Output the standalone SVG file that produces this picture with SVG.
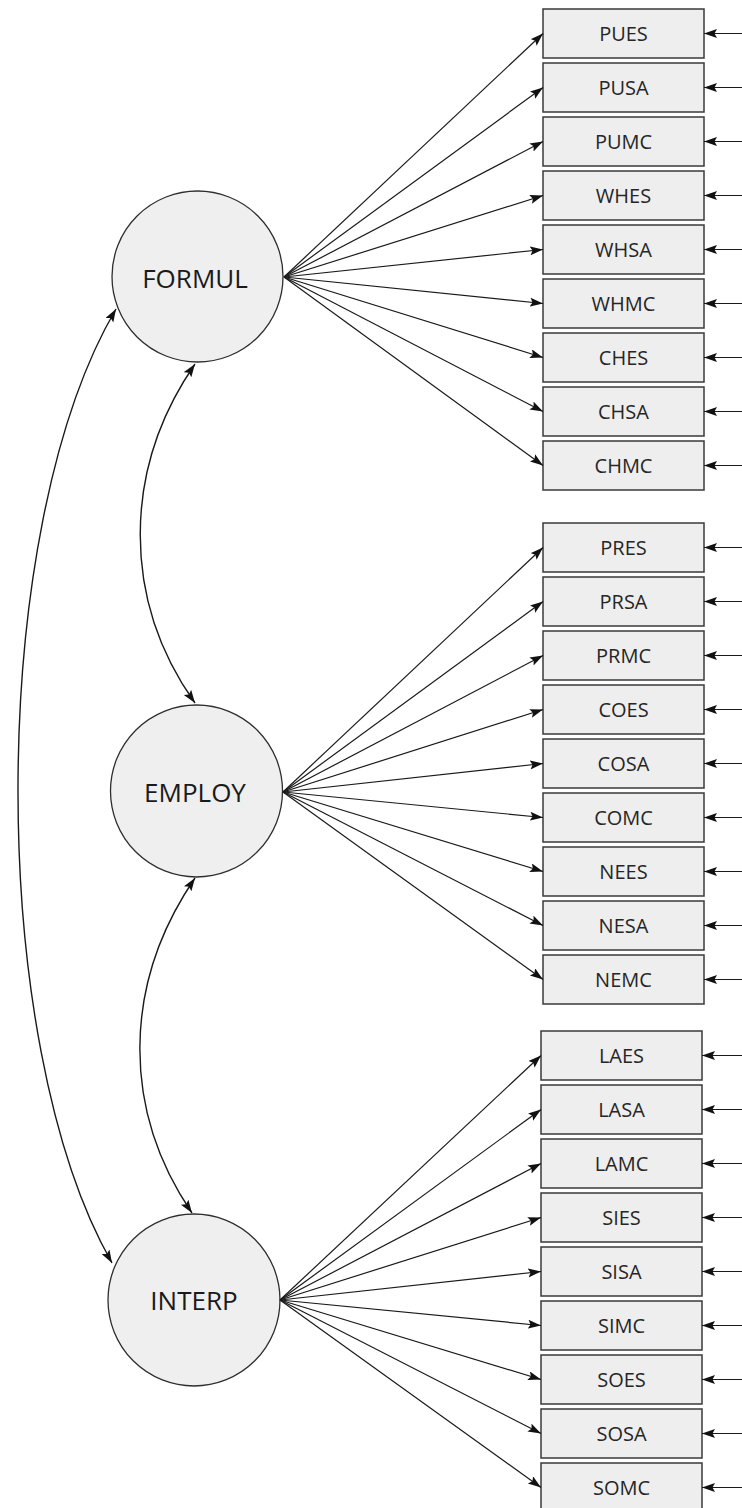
<svg xmlns="http://www.w3.org/2000/svg" width="742" height="1508" viewBox="0 0 742 1508">
  <style>
    .box { fill: #eeeeee; stroke: #3a3a3a; stroke-width: 1.5; }
    .lat { fill: #efefef; stroke: #2e2e2e; stroke-width: 1.3; }
    .lbl { font-family: "Open Sans", "Noto Sans", sans-serif; font-size: 20px; fill: #262626; text-anchor: middle; }
    .big { font-family: "Open Sans", "Noto Sans", sans-serif; font-size: 26px; fill: #1a1a1a; text-anchor: middle; }
    .ln { fill: none; stroke: #1a1a1a; stroke-width: 1.2; marker-end: url(#ah); }
    .cv { fill: none; stroke: #1a1a1a; stroke-width: 1.4; marker-start: url(#ahs); marker-end: url(#ah); }
  </style>
  <defs>
    <marker id="ah" markerUnits="userSpaceOnUse" markerWidth="14" markerHeight="10" refX="13" refY="4.5" orient="auto">
      <path d="M0,0 L13,4.5 L0,9 L2.5,4.5 z" fill="#111"/>
    </marker>
    <marker id="ahs" markerUnits="userSpaceOnUse" markerWidth="14" markerHeight="10" refX="13" refY="4.5" orient="auto-start-reverse">
      <path d="M0,0 L13,4.5 L0,9 L2.5,4.5 z" fill="#111"/>
    </marker>
  </defs>
  <rect width="742" height="1508" fill="#ffffff"/>

  <!-- latent factors -->
  <g id="FORMUL">
    <circle class="lat" cx="197.5" cy="276.5" r="85.5"/>
    <text class="big" x="195" y="287.5">FORMUL</text>
  </g>
  <g id="EMPLOY">
    <circle class="lat" cx="196.5" cy="791" r="86"/>
    <text class="big" x="195" y="801.5">EMPLOY</text>
  </g>
  <g id="INTERP">
    <circle class="lat" cx="194" cy="1300" r="86"/>
    <text class="big" x="194" y="1309.5">INTERP</text>
  </g>

  <!-- indicators: FORMUL -->
  <g id="PUES"><rect class="box" x="543" y="9" width="161" height="49"/><text class="lbl" x="623.5" y="40.5">PUES</text></g>
  <g id="PUSA"><rect class="box" x="543" y="63" width="161" height="49"/><text class="lbl" x="623.5" y="94.5">PUSA</text></g>
  <g id="PUMC"><rect class="box" x="543" y="117" width="161" height="49"/><text class="lbl" x="623.5" y="148.5">PUMC</text></g>
  <g id="WHES"><rect class="box" x="543" y="171" width="161" height="49"/><text class="lbl" x="623.5" y="202.5">WHES</text></g>
  <g id="WHSA"><rect class="box" x="543" y="225" width="161" height="49"/><text class="lbl" x="623.5" y="256.5">WHSA</text></g>
  <g id="WHMC"><rect class="box" x="543" y="279" width="161" height="49"/><text class="lbl" x="623.5" y="310.5">WHMC</text></g>
  <g id="CHES"><rect class="box" x="543" y="333" width="161" height="49"/><text class="lbl" x="623.5" y="364.5">CHES</text></g>
  <g id="CHSA"><rect class="box" x="543" y="387" width="161" height="49"/><text class="lbl" x="623.5" y="418.5">CHSA</text></g>
  <g id="CHMC"><rect class="box" x="543" y="441" width="161" height="49"/><text class="lbl" x="623.5" y="472.5">CHMC</text></g>

  <!-- indicators: EMPLOY -->
  <g id="PRES"><rect class="box" x="543" y="523" width="161" height="49"/><text class="lbl" x="623.5" y="554.5">PRES</text></g>
  <g id="PRSA"><rect class="box" x="543" y="577" width="161" height="49"/><text class="lbl" x="623.5" y="608.5">PRSA</text></g>
  <g id="PRMC"><rect class="box" x="543" y="631" width="161" height="49"/><text class="lbl" x="623.5" y="662.5">PRMC</text></g>
  <g id="COES"><rect class="box" x="543" y="685" width="161" height="49"/><text class="lbl" x="623.5" y="716.5">COES</text></g>
  <g id="COSA"><rect class="box" x="543" y="739" width="161" height="49"/><text class="lbl" x="623.5" y="770.5">COSA</text></g>
  <g id="COMC"><rect class="box" x="543" y="793" width="161" height="49"/><text class="lbl" x="623.5" y="824.5">COMC</text></g>
  <g id="NEES"><rect class="box" x="543" y="847" width="161" height="49"/><text class="lbl" x="623.5" y="878.5">NEES</text></g>
  <g id="NESA"><rect class="box" x="543" y="901" width="161" height="49"/><text class="lbl" x="623.5" y="932.5">NESA</text></g>
  <g id="NEMC"><rect class="box" x="543" y="955" width="161" height="49"/><text class="lbl" x="623.5" y="986.5">NEMC</text></g>

  <!-- indicators: INTERP -->
  <g id="LAES"><rect class="box" x="541" y="1031" width="161" height="49"/><text class="lbl" x="621.5" y="1062.5">LAES</text></g>
  <g id="LASA"><rect class="box" x="541" y="1085" width="161" height="49"/><text class="lbl" x="621.5" y="1116.5">LASA</text></g>
  <g id="LAMC"><rect class="box" x="541" y="1139" width="161" height="49"/><text class="lbl" x="621.5" y="1170.5">LAMC</text></g>
  <g id="SIES"><rect class="box" x="541" y="1193" width="161" height="49"/><text class="lbl" x="621.5" y="1224.5">SIES</text></g>
  <g id="SISA"><rect class="box" x="541" y="1247" width="161" height="49"/><text class="lbl" x="621.5" y="1278.5">SISA</text></g>
  <g id="SIMC"><rect class="box" x="541" y="1301" width="161" height="49"/><text class="lbl" x="621.5" y="1332.5">SIMC</text></g>
  <g id="SOES"><rect class="box" x="541" y="1355" width="161" height="49"/><text class="lbl" x="621.5" y="1386.5">SOES</text></g>
  <g id="SOSA"><rect class="box" x="541" y="1409" width="161" height="49"/><text class="lbl" x="621.5" y="1440.5">SOSA</text></g>
  <g id="SOMC"><rect class="box" x="541" y="1463" width="161" height="49"/><text class="lbl" x="621.5" y="1494.5">SOMC</text></g>

  <g id="connectors">
    <!-- factor covariances -->
    <path class="cv" d="M195,364 C122,470 122,600 195,703"/>
    <path class="cv" d="M195,878 C122,985 122,1110 192,1213"/>
    <path class="cv" d="M116,309 C-14,530 -14,1043 112,1263"/>

    <!-- loadings: FORMUL -->
    <path class="ln" d="M284,277 L543,33.5"/>
    <path class="ln" d="M284,277 L543,87.5"/>
    <path class="ln" d="M284,277 L543,141.5"/>
    <path class="ln" d="M284,277 L543,195.5"/>
    <path class="ln" d="M284,277 L543,249.5"/>
    <path class="ln" d="M284,277 L543,303.5"/>
    <path class="ln" d="M284,277 L543,357.5"/>
    <path class="ln" d="M284,277 L543,411.5"/>
    <path class="ln" d="M284,277 L543,465.5"/>

    <!-- loadings: EMPLOY -->
    <path class="ln" d="M283,792 L543,547.5"/>
    <path class="ln" d="M283,792 L543,601.5"/>
    <path class="ln" d="M283,792 L543,655.5"/>
    <path class="ln" d="M283,792 L543,709.5"/>
    <path class="ln" d="M283,792 L543,763.5"/>
    <path class="ln" d="M283,792 L543,817.5"/>
    <path class="ln" d="M283,792 L543,871.5"/>
    <path class="ln" d="M283,792 L543,925.5"/>
    <path class="ln" d="M283,792 L543,979.5"/>

    <!-- loadings: INTERP -->
    <path class="ln" d="M280,1300 L541,1055.5"/>
    <path class="ln" d="M280,1300 L541,1109.5"/>
    <path class="ln" d="M280,1300 L541,1163.5"/>
    <path class="ln" d="M280,1300 L541,1217.5"/>
    <path class="ln" d="M280,1300 L541,1271.5"/>
    <path class="ln" d="M280,1300 L541,1325.5"/>
    <path class="ln" d="M280,1300 L541,1379.5"/>
    <path class="ln" d="M280,1300 L541,1433.5"/>
    <path class="ln" d="M280,1300 L541,1487.5"/>

    <!-- error terms -->
    <path class="ln" d="M742,33.5 L704,33.5"/>
    <path class="ln" d="M742,87.5 L704,87.5"/>
    <path class="ln" d="M742,141.5 L704,141.5"/>
    <path class="ln" d="M742,195.5 L704,195.5"/>
    <path class="ln" d="M742,249.5 L704,249.5"/>
    <path class="ln" d="M742,303.5 L704,303.5"/>
    <path class="ln" d="M742,357.5 L704,357.5"/>
    <path class="ln" d="M742,411.5 L704,411.5"/>
    <path class="ln" d="M742,465.5 L704,465.5"/>
    <path class="ln" d="M742,547.5 L704,547.5"/>
    <path class="ln" d="M742,601.5 L704,601.5"/>
    <path class="ln" d="M742,655.5 L704,655.5"/>
    <path class="ln" d="M742,709.5 L704,709.5"/>
    <path class="ln" d="M742,763.5 L704,763.5"/>
    <path class="ln" d="M742,817.5 L704,817.5"/>
    <path class="ln" d="M742,871.5 L704,871.5"/>
    <path class="ln" d="M742,925.5 L704,925.5"/>
    <path class="ln" d="M742,979.5 L704,979.5"/>
    <path class="ln" d="M742,1055.5 L702,1055.5"/>
    <path class="ln" d="M742,1109.5 L702,1109.5"/>
    <path class="ln" d="M742,1163.5 L702,1163.5"/>
    <path class="ln" d="M742,1217.5 L702,1217.5"/>
    <path class="ln" d="M742,1271.5 L702,1271.5"/>
    <path class="ln" d="M742,1325.5 L702,1325.5"/>
    <path class="ln" d="M742,1379.5 L702,1379.5"/>
    <path class="ln" d="M742,1433.5 L702,1433.5"/>
    <path class="ln" d="M742,1487.5 L702,1487.5"/>
  </g>
</svg>
